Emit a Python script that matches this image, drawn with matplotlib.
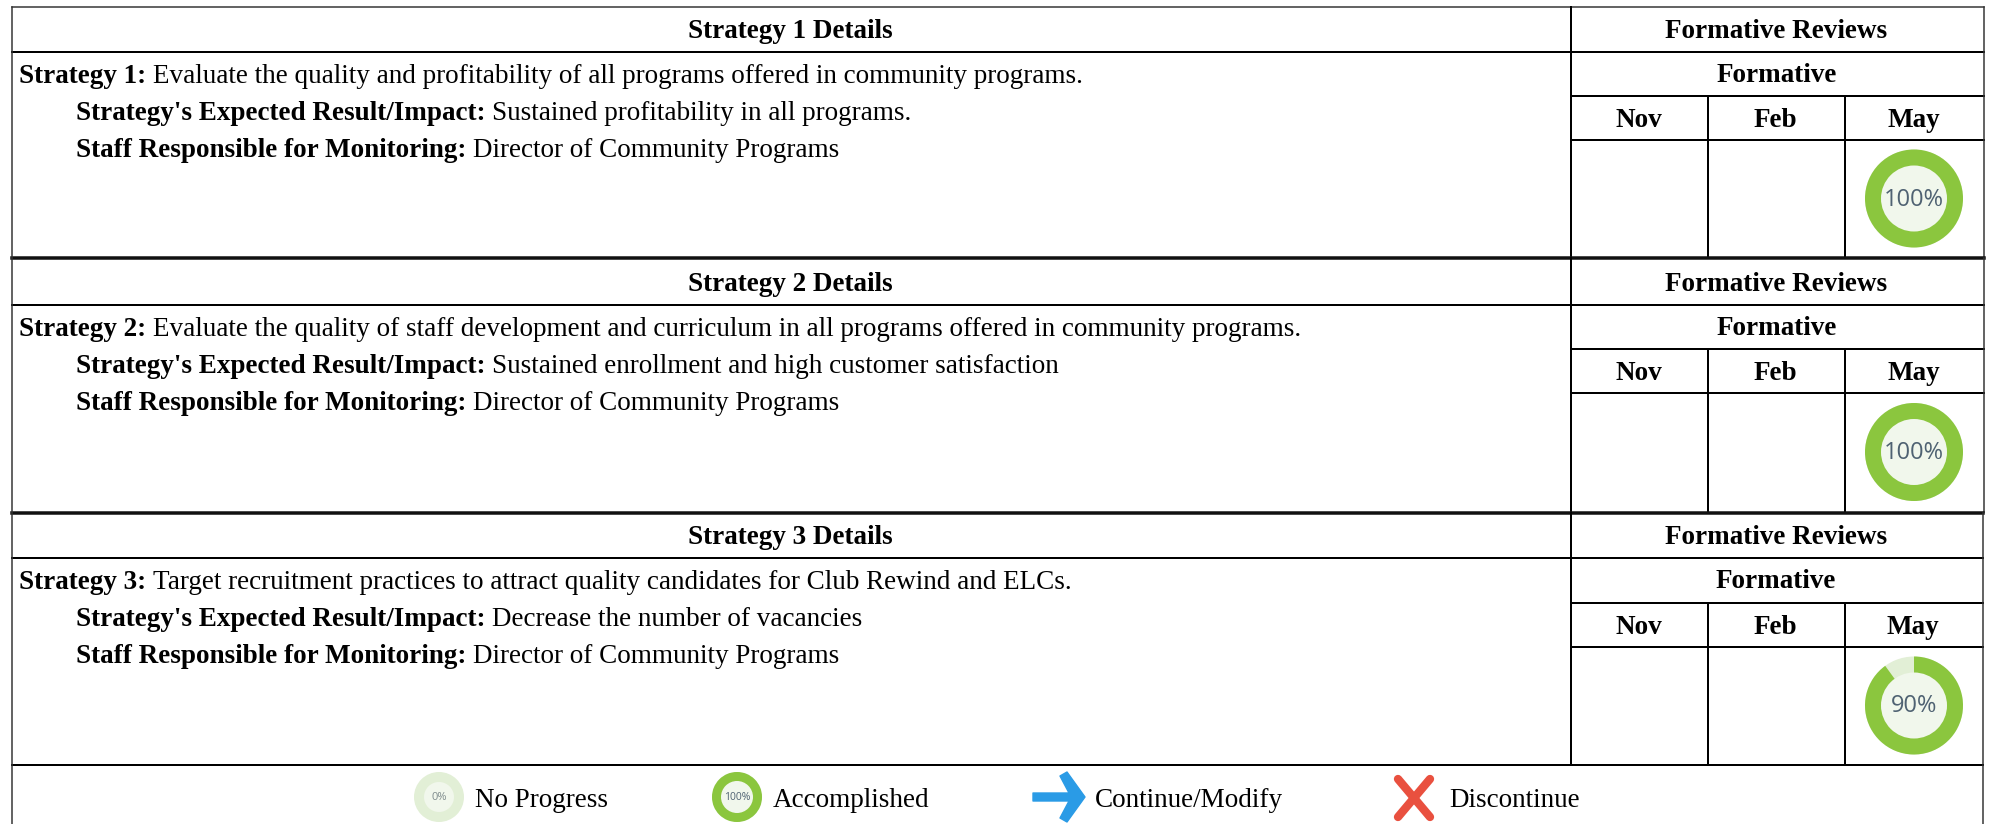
import matplotlib
matplotlib.use('Agg')
import matplotlib.pyplot as plt
from matplotlib.patches import Wedge, Circle, Polygon

plt.rcParams['font.family'] = ['Liberation Serif', 'DejaVu Serif']

# table content
strategy_titles = ['Strategy 1 Details', 'Strategy 2 Details', 'Strategy 3 Details']
strategy_labels = ['Strategy 1:', 'Strategy 2:', 'Strategy 3:']
strategy_text = [
    'Evaluate the quality and profitability of all programs offered in community programs.',
    'Evaluate the quality of staff development and curriculum in all programs offered in community programs.',
    'Target recruitment practices to attract quality candidates for Club Rewind and ELCs.',
]
expected_text = [
    'Sustained profitability in all programs.',
    'Sustained enrollment and high customer satisfaction',
    'Decrease the number of vacancies',
]
staff_text = ['Director of Community Programs'] * 3
review_months = ['Nov', 'Feb', 'May']
may_progress = [100, 100, 90]
legend_labels = ['No Progress', 'Accomplished', 'Continue/Modify', 'Discontinue']
legend_progress = [0, 100]

GREEN = '#8BC63E'
PALE = '#E2EFD6'
INNER = '#F1F7EC'
PCT = '#4F6272'
FS = 19.5

fig = plt.figure(figsize=(19.9, 8.24), dpi=100)
ax = fig.add_axes([0, 0, 1, 1])
ax.set_xlim(0, 1990)
ax.set_ylim(824, 0)
ax.axis('off')
renderer = fig.canvas.get_renderer()


def line(x0, y0, x1, y1, lw=2.0, color='black'):
    ax.plot([x0, x1], [y0, y1], color=color, lw=lw * 0.72, solid_capstyle='projecting')


def mixed(x, y, bold, plain):
    t = ax.text(x, y, bold, fontsize=FS, fontweight='bold', va='baseline', ha='left')
    w = t.get_window_extent(renderer).width
    ax.text(x + w + 7, y, plain, fontsize=FS, va='baseline', ha='left')


def donut(cx, cy, r, r_in, pct, fs, pct_color=PCT):
    ax.add_patch(Circle((cx, cy), r, fc=PALE, ec='none'))
    # y axis is flipped, so angles run clockwise from +x
    if pct > 0:
        ax.add_patch(Wedge((cx, cy), r, -90, -90 + 3.6 * pct, fc=GREEN, ec='none'))
    ax.add_patch(Circle((cx, cy), r_in, fc=INNER, ec='none'))
    ax.text(cx, cy + 1, f'{pct}%', fontsize=fs, family='Open Sans', color=pct_color, ha='center', va='center')


# top, header bottom, formative bottom, months bottom, block bottom, right edge
blocks = [
    (7, 52, 96, 140, 258, 1984),
    (258, 305, 349, 393, 512, 1984),
    (513, 558, 603, 647, 765, 1983),
]
LEFT = 12
COL = 1571
SPLIT1 = 1708
SPLIT2 = 1845

for i, (top, head, form, mon, bot, right) in enumerate(blocks):
    line(LEFT, top, right, top, 3.5 if i else 1.5, '#111111' if i else '#333333')
    line(LEFT, head, right, head)
    line(COL, form, right, form)
    line(COL, mon, right, mon)
    line(COL, top, COL, bot)
    line(SPLIT1, form, SPLIT1, bot)
    line(SPLIT2, form, SPLIT2, bot)
    line(right, top, right, bot, 1.5, '#333333')

    ax.text((LEFT + COL) / 2 - 1, head - 14, strategy_titles[i], fontsize=FS, fontweight='bold', ha='center', va='baseline')
    mid = (COL + right) / 2 - 1
    ax.text(mid, head - 14, 'Formative Reviews', fontsize=FS, fontweight='bold', ha='center', va='baseline')
    ax.text(mid, head + 30, 'Formative', fontsize=FS, fontweight='bold', ha='center', va='baseline')
    for m, x in zip(review_months, [(COL + SPLIT1) / 2 - 1, (SPLIT1 + SPLIT2) / 2 - 1, (SPLIT2 + right) / 2 - 1]):
        ax.text(x, form + 31, m, fontsize=FS, fontweight='bold', ha='center', va='baseline')

    mixed(19, head + 31, strategy_labels[i], strategy_text[i])
    mixed(76, head + 68, "Strategy's Expected Result/Impact:", expected_text[i])
    mixed(76, head + 105, 'Staff Responsible for Monitoring:', staff_text[i])

    donut(1914, (mon + bot) / 2 - 0.5, 49, 33, may_progress[i], 17)

line(LEFT, 765, 1983, 765)
line(LEFT, 7, LEFT, 824, 1.5, '#333333')
line(1983, 765, 1983, 824, 1.5, '#333333')

# legend row
donut(439, 797, 25, 15, legend_progress[0], 8, '#7F8C8D')
donut(737, 797, 25, 16, legend_progress[1], 7.5)
ax.add_patch(Polygon([(1033, 793), (1069, 793), (1060, 776), (1067, 772), (1085, 797), (1067, 822), (1060, 818), (1069, 801), (1033, 801)],
                     closed=True, fc='#2A9BE6', ec='#2A9BE6', lw=1, joinstyle='round'))
ax.plot([1398, 1430], [779, 817], color='#E9503F', lw=6, solid_capstyle='round')
ax.plot([1398, 1430], [817, 779], color='#E9503F', lw=6, solid_capstyle='round')

for x, lab in zip([475, 773, 1095, 1449], legend_labels):
    ax.text(x, 807, lab, fontsize=FS, ha='left', va='baseline')

fig.savefig('out.png', dpi=100, facecolor='white')
